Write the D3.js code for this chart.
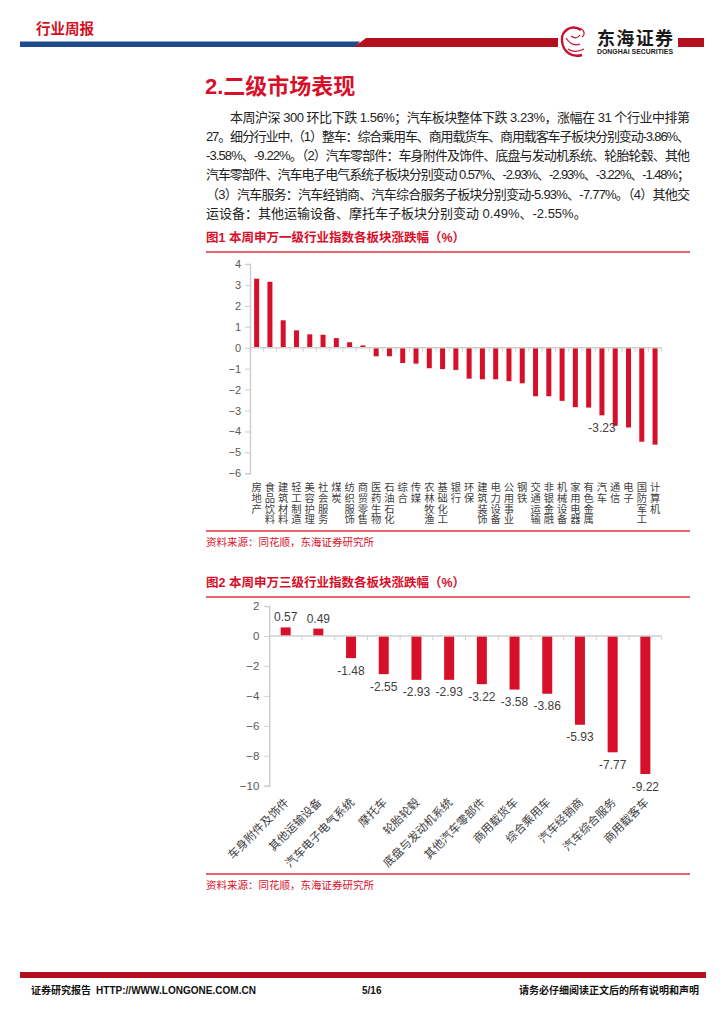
<!DOCTYPE html>
<html><head><meta charset="utf-8">
<script src="https://cdn.jsdelivr.net/npm/d3@7/dist/d3.min.js"></script>
<style>
html,body{margin:0;padding:0;background:#fff;}
svg{display:block;font-family:"Liberation Sans","Noto Sans CJK SC",sans-serif;}
</style></head>
<body>
<svg id="page" width="724" height="1024"></svg>
<script>
// ---------- DATA ----------
const industries1 = ["房地产","食品饮料","建筑材料","轻工制造","美容护理","社会服务","煤炭","纺织服饰","商贸零售","医药生物","石油石化","综合","传媒","农林牧渔","基础化工","银行","环保","建筑装饰","电力设备","公用事业","钢铁","交通运输","非银金融","机械设备","家用电器","有色金属","汽车","通信","电子","国防军工","计算机"];
const changes1 = [3.30,3.15,1.31,0.83,0.64,0.62,0.46,0.26,0.11,-0.41,-0.41,-0.73,-0.76,-0.98,-1.02,-1.06,-1.48,-1.51,-1.51,-1.60,-1.70,-2.32,-2.32,-2.54,-2.84,-2.86,-3.23,-3.73,-3.81,-4.49,-4.63];
const labelled1 = ["汽车"];
const ticks1 = [4,3,2,1,0,-1,-2,-3,-4,-5,-6];

const industries2 = ["车身附件及饰件","其他运输设备","汽车电子电气系统","摩托车","轮胎轮毂","底盘与发动机系统","其他汽车零部件","商用载货车","综合乘用车","汽车经销商","汽车综合服务","商用载客车"];
const changes2 = [0.57,0.49,-1.48,-2.55,-2.93,-2.93,-3.22,-3.58,-3.86,-5.93,-7.77,-9.22];
const ticks2 = [2,0,-2,-4,-6,-8,-10];

const paraLines = [
 "本周沪深 300 环比下跌 1.56%；汽车板块整体下跌 3.23%，涨幅在 31 个行业中排第",
 "27。细分行业中,（1）整车：综合乘用车、商用载货车、商用载客车子板块分别变动-3.86%、",
 "-3.58%、-9.22%。（2）汽车零部件：车身附件及饰件、底盘与发动机系统、轮胎轮毂、其他",
 "汽车零部件、汽车电子电气系统子板块分别变动 0.57%、-2.93%、-2.93%、-3.22%、-1.48%；",
 "（3）汽车服务：汽车经销商、汽车综合服务子板块分别变动-5.93%、-7.77%。（4）其他交",
 "运设备：其他运输设备、摩托车子板块分别变动 0.49%、-2.55%。"
];

// ---------- STYLE ----------
const RED = "#d7102a", DARKRED = "#b3111e", BLUE = "#1d4a8a", AXIS = "#cfcfcf", TICKTXT = "#595959", LBL = "#404040";
const svg = d3.select("#page");

// ---------- HEADER ----------
svg.append("text").attr("x",36).attr("y",34).attr("font-size",14.5).attr("font-weight","bold")
  .attr("fill","#d2121f").attr("font-family","Noto Sans CJK SC").text("行业周报");
svg.append("polygon").attr("points","20,41.5 360,41.5 356,47 20,47").attr("fill",BLUE);
svg.append("polygon").attr("points","366,38 558,38 558,47 354,47").attr("fill",DARKRED);
svg.append("rect").attr("x",678).attr("y",38).attr("width",26).attr("height",9).attr("fill",DARKRED);
// logo
const lg = svg.append("g");
lg.append("path").attr("d","M581,30 C572,24 561,30 562,41 C563,52 572,58 582,55")
  .attr("fill","none").attr("stroke","#c8102e").attr("stroke-width",2.4);
lg.append("path").attr("d","M577,28 C584,28 586,34 582,37 M566,38 C570,44 575,46 580,44 M568,49 C572,52 578,52 584,49 M571,36 C575,39 578,38 580,35")
  .attr("fill","none").attr("stroke","#c8102e").attr("stroke-width",1.2);
lg.append("text").attr("x",597).attr("y",45).attr("font-size",18).attr("font-weight","bold")
  .attr("font-family","Noto Sans CJK SC").attr("fill","#1a1a1a").attr("textLength",76).text("东海证券");
lg.append("text").attr("x",597).attr("y",54).attr("font-size",6.3).attr("font-weight","bold")
  .attr("fill","#1a1a1a").attr("textLength",76).attr("lengthAdjust","spacingAndGlyphs").text("DONGHAI SECURITIES");

// ---------- HEADING + PARAGRAPH ----------
svg.append("text").attr("x",205).attr("y",94).attr("font-size",22).attr("font-weight","bold")
  .attr("fill",RED).attr("font-family","Liberation Sans, Noto Sans CJK SC").text("2.二级市场表现");
paraLines.forEach((t,i)=>{
  const x0 = i===0 ? 230 : 206;
  const tx = svg.append("text").attr("x",x0).attr("y",121.5+i*19.3).attr("font-size",13)
    .attr("fill","#222").attr("font-family","Liberation Sans, Noto Sans CJK SC").text(t);
  if(i<paraLines.length-1) tx.attr("textLength",690-x0).attr("lengthAdjust","spacing");
});

function titleBlock(y, text){
  svg.append("text").attr("x",206).attr("y",y).attr("font-size",12.5).attr("font-weight","bold")
    .attr("fill",RED).attr("font-family","Liberation Sans, Noto Sans CJK SC").text(text);
  svg.append("line").attr("x1",206).attr("x2",690).attr("y1",y+10).attr("y2",y+10)
    .attr("stroke","#e0323f").attr("stroke-width",1.3);
}
function sourceBlock(y){
  svg.append("line").attr("x1",206).attr("x2",690).attr("y1",y).attr("y2",y)
    .attr("stroke","#e0323f").attr("stroke-width",1.3);
  svg.append("text").attr("x",206).attr("y",y+15).attr("font-size",10.5)
    .attr("fill",RED).attr("font-family","Noto Sans CJK SC").text("资料来源：同花顺，东海证券研究所");
}

// ---------- CHART 1 ----------
titleBlock(242, "图1  本周申万一级行业指数各板块涨跌幅（%）");
{
  const x = d3.scaleBand().domain(industries1).range([250,661.7]).padding(0);
  const y = d3.scaleLinear().domain([-6,4]).range([473.3,264]);
  const g = svg.append("g");
  const ya = g.append("g").attr("transform","translate(250,0)")
    .call(d3.axisLeft(y).tickValues(ticks1).tickSize(5).tickFormat(d3.format("d")));
  ya.select(".domain").attr("stroke",AXIS).attr("stroke-width",1.5);
  ya.selectAll(".tick line").attr("stroke",AXIS);
  ya.selectAll(".tick text").attr("fill",TICKTXT).attr("font-size",11).attr("x",-9)
    .attr("font-family","Liberation Sans");
  g.selectAll("rect.b").data(changes1).enter().append("rect").attr("class","b")
    .attr("x",(d,i)=>x(industries1[i])+x.bandwidth()/2-2.5).attr("width",5)
    .attr("y",d=>y(Math.max(0,d))).attr("height",d=>Math.abs(y(d)-y(0)))
    .attr("fill",RED);
  g.append("line").attr("x1",250).attr("x2",661.7).attr("y1",y(0)).attr("y2",y(0))
    .attr("stroke",AXIS).attr("stroke-width",1.5);
  g.selectAll("line.xt").data(d3.range(industries1.length+1)).enter().append("line").attr("class","xt")
    .attr("x1",i=>250+i*x.step()).attr("x2",i=>250+i*x.step())
    .attr("y1",y(0)).attr("y2",y(0)+4).attr("stroke",AXIS);
  industries1.forEach((c,i)=>{
    if(labelled1.includes(c)){
      g.append("text").attr("x",x(c)+x.bandwidth()/2).attr("y",y(changes1[i])+16.5)
        .attr("text-anchor","middle").attr("font-size",12).attr("fill",LBL).text(changes1[i].toFixed(2));
    }
  });
  // category labels: stacked characters, one text per character
  industries1.forEach((c)=>{
    const lab = g.append("g").attr("class","catlab");
    Array.from(c).forEach((ch,k)=>{
      lab.append("text").attr("x",x(c)+x.bandwidth()/2).attr("y",491+k*10.8)
        .attr("text-anchor","middle").attr("font-size",10.3).attr("fill","#404040")
        .attr("font-family","Noto Sans CJK SC").text(ch);
    });
  });
}
sourceBlock(531);

// ---------- CHART 2 ----------
titleBlock(587, "图2  本周申万三级行业指数各板块涨跌幅（%）");
{
  const x = d3.scaleBand().domain(industries2).range([269.3,661.7]).padding(0);
  const y = d3.scaleLinear().domain([-10,2]).range([785.7,606]);
  const g = svg.append("g");
  const ya = g.append("g").attr("transform","translate(269.3,0)")
    .call(d3.axisLeft(y).tickValues(ticks2).tickSize(5).tickFormat(d3.format("d")));
  ya.select(".domain").attr("stroke",AXIS).attr("stroke-width",1.5);
  ya.selectAll(".tick line").attr("stroke",AXIS);
  ya.selectAll(".tick text").attr("fill",TICKTXT).attr("font-size",11.5).attr("x",-10)
    .attr("font-family","Liberation Sans");
  g.selectAll("rect.b").data(changes2).enter().append("rect").attr("class","b")
    .attr("x",(d,i)=>x(industries2[i])+x.bandwidth()/2-5).attr("width",10)
    .attr("y",d=>y(Math.max(0,d))).attr("height",d=>Math.abs(y(d)-y(0)))
    .attr("fill",RED);
  g.append("line").attr("x1",269.3).attr("x2",661.7).attr("y1",y(0)).attr("y2",y(0))
    .attr("stroke",AXIS).attr("stroke-width",1.5);
  g.selectAll("line.xt").data(d3.range(industries2.length+1)).enter().append("line").attr("class","xt")
    .attr("x1",i=>269.3+i*x.step()).attr("x2",i=>269.3+i*x.step())
    .attr("y1",y(0)).attr("y2",y(0)+4).attr("stroke",AXIS);
  g.selectAll("text.v").data(changes2).enter().append("text").attr("class","v")
    .attr("x",(d,i)=>x(industries2[i])+x.bandwidth()/2)
    .attr("y",d=> d>=0 ? y(d)-6 : y(d)+16.5)
    .attr("text-anchor","middle").attr("font-size",12).attr("fill",LBL).text(d=>d.toFixed(2));
  g.selectAll("text.c").data(industries2).enter().append("text").attr("class","c")
    .attr("transform",d=>`translate(${x(d)+x.bandwidth()/2+4},${803}) rotate(-45)`)
    .attr("text-anchor","end").attr("font-size",11.5).attr("fill","#404040")
    .attr("font-family","Noto Sans CJK SC").text(d=>d);
}
sourceBlock(874);

// ---------- FOOTER ----------
svg.append("rect").attr("x",20).attr("y",972).attr("width",686).attr("height",6).attr("fill",DARKRED);
const ft = svg.append("g").attr("font-size",10).attr("font-weight","bold").attr("fill","#111");
ft.append("text").attr("x",31).attr("y",994).attr("font-family","Noto Sans CJK SC").text("证券研究报告");
ft.append("text").attr("x",96).attr("y",994).attr("font-family","Liberation Sans").attr("textLength",160).text("HTTP://WWW.LONGONE.COM.CN");
ft.append("text").attr("x",362).attr("y",994).attr("font-family","Liberation Sans").text("5/16");
ft.append("text").attr("x",699).attr("y",994).attr("text-anchor","end").attr("font-family","Noto Sans CJK SC").text("请务必仔细阅读正文后的所有说明和声明");
</script>
</body></html>
